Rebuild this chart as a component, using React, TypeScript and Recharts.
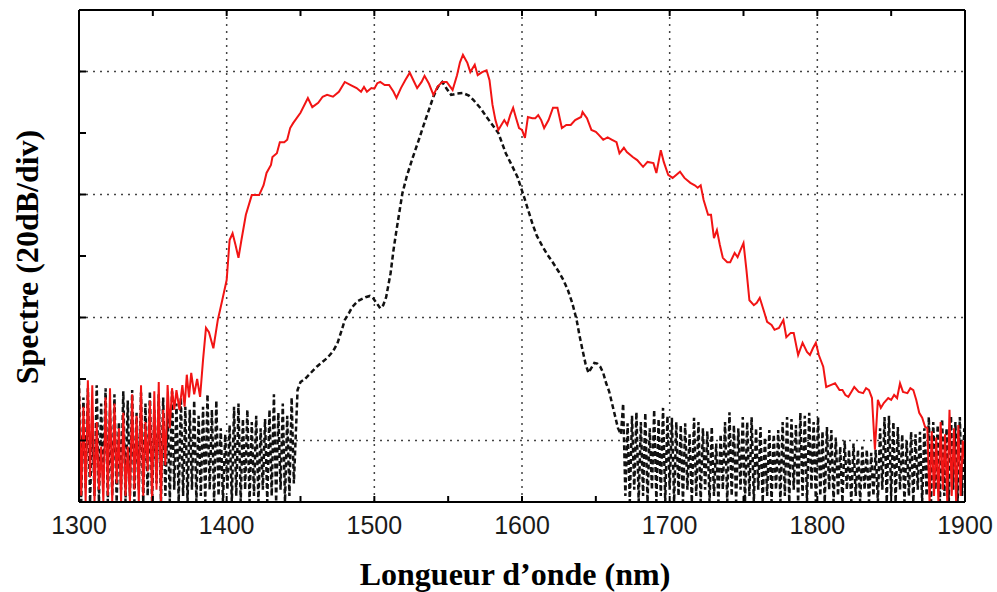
import { Label, Line, LineChart, ReferenceLine, XAxis, YAxis } from "recharts";

// wavelength axis (nm) and level axis (divisions of 20 dB)
const xTicks = [1300, 1350, 1400, 1450, 1500, 1550, 1600, 1650, 1700, 1750, 1800, 1850, 1900];
const yTicks = [0, 1, 2, 3, 4, 5, 6, 7, 8];
const gridNm = [1400, 1500, 1600, 1700, 1800];
const gridLevels = [1, 3, 5, 7];

// noise floor samples are read on a 1.5 nm grid
const NOISE_STEP = 1.5;

// red trace (broadened spectrum)
const redNoiseLeftStart = 1300;
const redNoiseLeft = [
  1.95, 0.1, 1.55, 0.0, 1.98, 0.4, 1.9, 0.0, 1.3, 0.2, 0.9, 0.0, 1.7, 0.1, 1.85, 0.0,
  1.6, 0.3, 1.2, 0.0, 1.45, 0.1, 0.9, 0.0, 1.75, 0.2, 1.4, 0.0, 1.9, 0.1, 1.3, 0.5,
  1.65, 0.0, 1.8, 0.2, 1.95, 0.0, 1.5, 0.6, 1.9, 1.2, 1.85, 1.5,
];
const redBody = [
  [1366, 1.82], [1368, 1.5], [1370, 1.9], [1371.5, 1.55], [1373, 2.07], [1374.5, 1.7],
  [1376, 2.1], [1378, 1.75], [1380, 2.0], [1382, 1.71], [1384, 2.31], [1386, 2.83],
  [1388, 2.76], [1391, 2.5], [1394, 2.96], [1397, 3.28], [1400, 3.61], [1402, 4.26],
  [1404, 4.37], [1406, 4.18], [1408, 3.97], [1410, 4.26], [1413, 4.67], [1417, 4.99],
  [1422, 4.99], [1425, 5.15], [1427, 5.35], [1430, 5.48], [1431, 5.61], [1434, 5.67],
  [1436, 5.85], [1439, 5.85], [1441, 5.89], [1443, 6.08], [1445, 6.16], [1450, 6.33],
  [1455, 6.57], [1458, 6.42], [1462, 6.49], [1465, 6.59], [1468, 6.62], [1472, 6.59],
  [1476, 6.67], [1480, 6.83], [1484, 6.78], [1488, 6.73], [1491, 6.67], [1493, 6.75],
  [1495, 6.67], [1498, 6.73], [1500, 6.72], [1502, 6.81], [1504, 6.83], [1507, 6.78],
  [1510, 6.78], [1513, 6.67], [1515, 6.57], [1518, 6.73], [1521, 6.86], [1524, 6.98],
  [1527, 6.83], [1529, 6.73], [1532, 6.83], [1534, 6.93], [1537, 6.8], [1540, 6.62],
  [1543, 6.76], [1546, 6.83], [1549, 6.83], [1553, 6.7], [1556, 6.94], [1558, 7.15],
  [1560, 7.27], [1563, 7.14], [1565, 6.99], [1568, 7.11], [1570, 6.94], [1573, 6.99],
  [1576, 7.02], [1578, 6.86], [1580, 6.46], [1582, 6.21], [1584, 6.05], [1586, 6.13],
  [1588, 6.21], [1590, 6.13], [1592, 6.29], [1594, 6.41], [1596, 6.24], [1598, 6.08],
  [1600, 6.05], [1602, 5.92], [1604, 6.26], [1607, 6.24], [1609, 6.24], [1611, 6.29],
  [1613, 6.21], [1615, 6.08], [1618, 6.21], [1621, 6.41], [1624, 6.41], [1627, 6.08],
  [1630, 6.13], [1633, 6.13], [1636, 6.21], [1640, 6.26], [1641, 6.34], [1644, 6.24],
  [1647, 6.05], [1650, 6.02], [1652, 5.97], [1655, 5.89], [1658, 5.93], [1661, 5.89],
  [1664, 5.85], [1666, 5.67], [1669, 5.76], [1671, 5.69], [1675, 5.61], [1678, 5.56],
  [1682, 5.45], [1685, 5.53], [1689, 5.51], [1691, 5.35], [1694, 5.72], [1696, 5.53],
  [1699, 5.32], [1702, 5.27], [1705, 5.33], [1707, 5.37], [1710, 5.27], [1714, 5.19],
  [1717, 5.15], [1719, 5.11], [1721, 5.15], [1723, 4.91], [1726, 4.67], [1728, 4.67],
  [1730, 4.29], [1732, 4.42], [1734, 4.18], [1736, 3.97], [1739, 3.9], [1741, 3.9],
  [1744, 4.05], [1746, 3.98], [1748, 4.1], [1750, 4.21], [1752, 3.77], [1754, 3.28],
  [1757, 3.2], [1759, 3.24], [1761, 3.32], [1764, 3.09], [1766, 2.93], [1769, 2.88],
  [1771, 2.8], [1774, 2.83], [1777, 2.96], [1779, 2.68], [1782, 2.75], [1784, 2.75],
  [1787, 2.39], [1790, 2.59], [1793, 2.44], [1795, 2.39], [1797, 2.5], [1799, 2.59],
  [1801, 2.39], [1804, 2.2], [1806, 1.87], [1809, 1.9], [1812, 1.93], [1815, 1.82],
  [1817, 1.82], [1819, 1.74], [1821, 1.71], [1823, 1.79], [1825, 1.87], [1828, 1.79],
  [1831, 1.77], [1833, 1.85], [1835, 1.82], [1837, 1.69], [1839, 0.85], [1841, 1.66],
  [1843, 1.53], [1845, 1.61], [1848, 1.69], [1850, 1.66], [1852, 1.74], [1854, 1.69],
  [1856, 1.93], [1858, 1.79], [1861, 1.77], [1863, 1.85], [1865, 1.82], [1867, 1.66],
  [1869, 1.45], [1871, 1.37], [1873, 1.22],
];
const redNoiseRightStart = 1874.5;
const redNoiseRight = [
  1.2, 0.0, 1.15, 0.1, 1.05, 0.0, 1.3, 0.2, 1.1, 0.0, 1.5, 0.1, 1.2, 0.0, 1.25, 0.1, 1.0, 0.6,
];

// black dashed trace (input spectrum)
const blackNoiseLeftStart = 1300;
const blackNoiseLeft = [
  1.98, 0.0, 1.7, 0.2, 1.85, 0.0, 1.4, 0.1, 1.9, 0.0,
  1.6, 0.3, 1.85, 0.0, 1.5, 0.1, 1.75, 0.0, 1.3, 0.2,
  1.8, 0.0, 1.65, 0.1, 1.82, 0.0, 1.45, 0.2, 1.78, 0.0,
  1.6, 0.1, 1.8, 0.0, 1.5, 0.3, 1.75, 0.0, 1.7, 0.1,
  1.55, 0.0, 1.8, 0.2, 1.6, 0.0, 1.7, 0.1, 1.55, 0.0,
  1.5, 0.2, 1.65, 0.0, 1.4, 0.1, 1.55, 0.0, 1.75, 0.2,
  1.5, 0.0, 1.65, 0.1, 1.2, 0.0, 1.1, 0.2, 1.25, 0.0,
  1.55, 0.1, 1.6, 0.0, 1.35, 0.2, 1.5, 0.0, 1.3, 0.1,
  1.4, 0.0, 1.2, 0.2, 1.35, 0.0, 1.5, 0.1, 1.75, 0.0,
  1.45, 0.2, 1.6, 0.0, 1.4, 0.1, 1.7, 0.3,
];
const blackBody = [
  [1448, 1.82], [1450, 1.95], [1453, 2.0], [1457, 2.1], [1461, 2.2], [1465, 2.28],
  [1468, 2.34], [1472, 2.45], [1475, 2.58], [1478, 2.8], [1480, 2.96], [1483, 3.08],
  [1485, 3.17], [1489, 3.27], [1494, 3.33], [1497, 3.35], [1499, 3.32], [1502, 3.22],
  [1504, 3.15], [1506, 3.2], [1508, 3.33], [1511, 3.72], [1513, 4.1], [1515, 4.42],
  [1519, 5.02], [1522, 5.3], [1526, 5.6], [1530, 5.88], [1533, 6.1], [1537, 6.38],
  [1540, 6.59], [1543, 6.75], [1546, 6.83], [1549, 6.72], [1552, 6.62], [1556, 6.64],
  [1560, 6.65], [1564, 6.61], [1567, 6.54], [1572, 6.4], [1576, 6.26], [1580, 6.13],
  [1584, 6.0], [1589, 5.67], [1593, 5.48], [1597, 5.28], [1601, 4.99], [1604, 4.76],
  [1607, 4.53], [1610, 4.33], [1614, 4.15], [1617, 4.03], [1621, 3.89], [1625, 3.74],
  [1628, 3.61], [1631, 3.45], [1634, 3.24], [1637, 2.96], [1639, 2.7], [1641, 2.47],
  [1643, 2.25], [1645, 2.1], [1647, 2.18], [1649, 2.26], [1651, 2.25], [1653, 2.2],
  [1655, 2.1], [1657, 1.93], [1659, 1.8], [1661, 1.6], [1663, 1.4], [1665, 1.2],
  [1667, 1.1],
];
const blackNoiseRightStart = 1668.5;
const blackNoiseRight = [
  1.6, 0.1, 1.28, 0.0, 1.4, 0.2, 1.46, 0.0, 1.3, 0.1,
  1.45, 0.0, 1.2, 0.2, 1.5, 0.0, 1.35, 0.1, 1.53, 0.0,
  1.4, 0.2, 1.37, 0.0, 1.3, 0.1, 1.25, 0.0, 1.28, 0.2,
  1.1, 0.0, 1.37, 0.1, 1.3, 0.0, 1.2, 0.2, 1.15, 0.0,
  1.22, 0.1, 0.95, 0.0, 1.1, 0.2, 1.3, 0.0, 1.46, 0.1,
  1.25, 0.0, 1.2, 0.2, 1.38, 0.0, 1.3, 0.1, 1.38, 0.0,
  1.2, 0.2, 1.22, 0.0, 1.05, 0.1, 1.17, 0.0, 1.1, 0.2,
  1.17, 0.0, 1.3, 0.1, 1.38, 0.0, 1.35, 0.2, 1.25, 0.0,
  1.45, 0.1, 1.4, 0.0, 1.45, 0.2, 1.3, 0.0, 1.38, 0.1,
  1.15, 0.0, 1.22, 0.2, 1.17, 0.0, 1.05, 0.1, 0.9, 0.0,
  1.0, 0.2, 0.85, 0.0, 0.95, 0.1, 0.85, 0.0, 0.9, 0.2,
  0.85, 0.0, 0.8, 0.1, 0.85, 0.0, 1.2, 0.2, 1.38, 0.0,
  1.4, 0.1, 1.3, 0.0, 1.22, 0.2, 1.1, 0.0, 1.0, 0.1,
  1.14, 0.0, 1.1, 0.2, 1.14, 0.0, 1.2, 0.1, 1.38, 0.0,
  1.3, 0.2, 1.25, 0.0, 1.35, 0.1, 1.2, 0.0, 1.4, 0.2,
  1.3, 0.0, 1.38, 0.1, 1.2,
];

type Pt = { nm: number; db: number };

function onGrid(start: number, values: number[]): Pt[] {
  return values.map((db, i) => ({ nm: start + i * NOISE_STEP, db }));
}

function fromPairs(pairs: number[][]): Pt[] {
  return pairs.map(([nm, db]) => ({ nm, db }));
}

const redData = [
  ...onGrid(redNoiseLeftStart, redNoiseLeft),
  ...fromPairs(redBody),
  ...onGrid(redNoiseRightStart, redNoiseRight),
];
const blackData = [
  ...onGrid(blackNoiseLeftStart, blackNoiseLeft),
  ...fromPairs(blackBody),
  ...onGrid(blackNoiseRightStart, blackNoiseRight),
];

const tickFont = { fontSize: 25, fontFamily: "'Liberation Sans', Arial, sans-serif", fill: "#1a1a1a" };
const titleFont = {
  fontSize: 32,
  fontWeight: 700,
  fontFamily: "'Liberation Serif', 'Times New Roman', serif",
  fill: "#000",
};
const frame = { stroke: "#000", strokeWidth: 2 };
const gridStyle = { stroke: "#444", strokeWidth: 1.5, strokeDasharray: "2 5" };

export default function App() {
  return (
    <div style={{ position: "absolute", left: 0, top: 0, background: "#fff" }}>
      <LineChart
        width={997}
        height={592}
        margin={{ top: 4, right: 26, left: 0, bottom: 0 }}
      >
        <XAxis
          dataKey="nm"
          type="number"
          domain={[1300, 1900]}
          ticks={xTicks}
          allowDataOverflow
          height={90}
          axisLine={frame}
          tickLine={frame}
          tickSize={-6}
          tickMargin={20}
          tick={tickFont}
          tickFormatter={(v: number) => (v % 100 === 0 ? String(v) : "")}
        >
          <Label
            content={() => (
              <text x={515} y={585} textAnchor="middle" style={titleFont}>
                Longueur d’onde (nm)
              </text>
            )}
          />
        </XAxis>
        <XAxis
          xAxisId="top"
          orientation="top"
          dataKey="nm"
          type="number"
          domain={[1300, 1900]}
          ticks={xTicks}
          allowDataOverflow
          height={6}
          axisLine={frame}
          tickLine={frame}
          tickSize={-6}
          tickFormatter={() => ""}
        />
        <YAxis
          type="number"
          domain={[0, 8]}
          ticks={yTicks}
          allowDataOverflow
          width={79}
          axisLine={frame}
          tickLine={frame}
          tickSize={-7}
          tickFormatter={() => ""}
        >
          <Label
            content={() => (
              <text
                x={27}
                y={257}
                transform="rotate(-90 27 257)"
                textAnchor="middle"
                dominantBaseline="central"
                style={titleFont}
              >
                Spectre (20dB/div)
              </text>
            )}
          />
        </YAxis>
        <YAxis
          yAxisId="right"
          orientation="right"
          type="number"
          domain={[0, 8]}
          ticks={yTicks}
          width={6}
          axisLine={frame}
          tickLine={frame}
          tickSize={-7}
          tickFormatter={() => ""}
        />
        {gridNm.map((nm) => (
          <ReferenceLine key={`v${nm}`} x={nm} {...gridStyle} />
        ))}
        {gridLevels.map((lv) => (
          <ReferenceLine key={`h${lv}`} y={lv} {...gridStyle} />
        ))}
        <Line
          data={blackData}
          dataKey="db"
          type="linear"
          stroke="#111"
          strokeWidth={2.5}
          strokeDasharray="5 3"
          dot={false}
          activeDot={false}
          isAnimationActive={false}
        />
        <Line
          data={redData}
          dataKey="db"
          type="linear"
          stroke="#f21414"
          strokeWidth={2}
          dot={false}
          activeDot={false}
          isAnimationActive={false}
        />
      </LineChart>
    </div>
  );
}
